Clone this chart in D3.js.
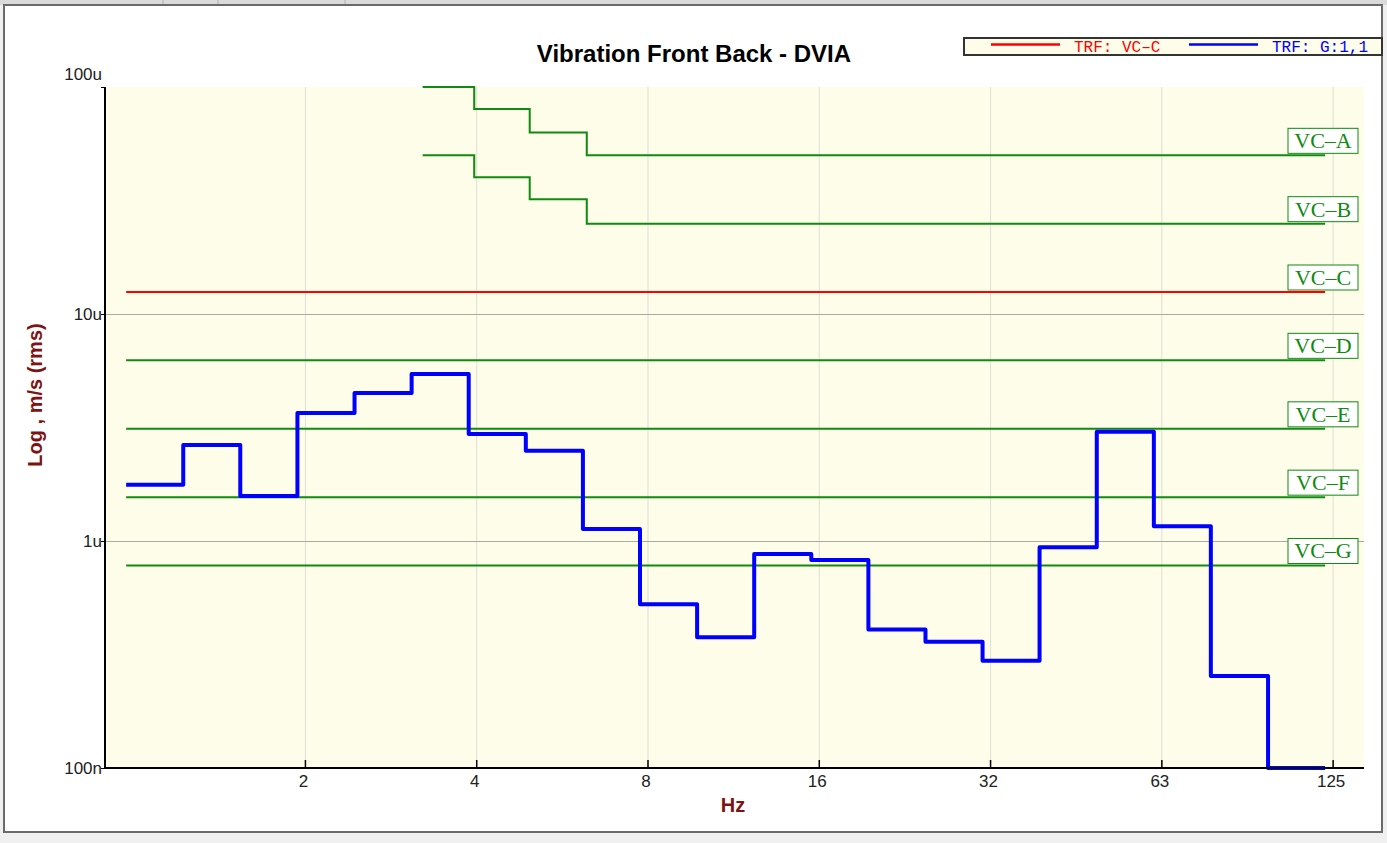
<!DOCTYPE html>
<html>
<head>
<meta charset="utf-8">
<script src="https://cdn.jsdelivr.net/npm/d3@7"></script>
<style>
    body { margin: 0; background: #f0f0f0; overflow: hidden; }
    #chart { width: 1387px; height: 843px; }
</style>
</head>
<body>
<div id="chart"></div>
<script>
// Third-octave band centres (Hz) used for the step plots, last one closes the 100 Hz band
const bandHz = [1, 1.26, 1.587, 2, 2.52, 3.175, 4, 5.04, 6.35, 8, 10.08, 12.7, 16, 20.16, 25.4, 32, 40.3, 50.8, 64, 80.6, 101.6, 128];

const measured = [1.77, 2.65, 1.58, 3.66, 4.49, 5.44, 2.96, 2.50, 1.13, 0.526, 0.377, 0.877, 0.825, 0.408, 0.360, 0.297, 0.938, 3.03, 1.16, 0.254, 0.1];

// VC criteria (um/s), flat part
const vcNames = ['VC\u2013A', 'VC\u2013B', 'VC\u2013C', 'VC\u2013D', 'VC\u2013E', 'VC\u2013F', 'VC\u2013G'];
const vcFlat = [50, 25, 12.5, 6.25, 3.12, 1.56, 0.78];

// VC-A / VC-B low frequency steps (Hz where each step starts)
const vcStepHz = [3.32, 4.09, 5.12, 6.45];
const vcALow = [100, 80, 63];
const vcBLow = [50, 40, 32];

// Axis ticks
const xTickHz = [2, 4, 8, 16, 32, 64, 128];
const xTickLabels = ['2', '4', '8', '16', '32', '63', '125'];
const yTickVals = [0.1, 1, 10, 100];
const yTickLabels = ['100n', '1u', '10u', '100u'];

// Legend
const legendItems = [
    { label: 'TRF: VC\u2013C', color: '#ff0000' },
    { label: 'TRF: G:1,1', color: '#0000ff' }
];

function drawVibrationChart() {
    const svg = d3.select('#chart').append('svg')
        .attr('width', 1387)
        .attr('height', 843);

    // Window frame
    svg.append('rect').attr('x', 0).attr('y', 0).attr('width', 1387).attr('height', 5).attr('fill', '#dadada');
    [163, 218, 345].forEach(x => {
        svg.append('line').attr('x1', x).attr('x2', x).attr('y1', 0).attr('y2', 5)
            .attr('stroke', '#b0b0b0');
    });
    svg.append('rect')
        .attr('x', 4).attr('y', 5)
        .attr('width', 1378).attr('height', 827)
        .attr('fill', '#ffffff')
        .attr('stroke', '#6a6a6a')
        .attr('stroke-width', 2);

    const plot = { left: 105, right: 1364, top: 87, bottom: 768 };

    const x = d3.scaleLog().base(2)
        .domain([0.918, 149.8])
        .range([plot.left, plot.right]);

    const y = d3.scaleLog()
        .domain([0.1, 100])
        .range([plot.bottom, plot.top]);

    const tickNudge = 8; // grid/ticks sit a little right of the band steps

    // Plot background
    svg.append('rect')
        .attr('x', plot.left).attr('y', plot.top)
        .attr('width', plot.right - plot.left)
        .attr('height', plot.bottom - plot.top)
        .attr('fill', '#fdfde9');

    // Vertical grid
    svg.append('g')
        .selectAll('line')
        .data(xTickHz)
        .join('line')
        .attr('x1', d => x(d) + tickNudge)
        .attr('x2', d => x(d) + tickNudge)
        .attr('y1', plot.top)
        .attr('y2', plot.bottom)
        .attr('stroke', '#dedfd6')
        .attr('stroke-width', 1);

    // Horizontal grid (decades inside the plot)
    svg.append('g')
        .selectAll('line')
        .data([1, 10])
        .join('line')
        .attr('x1', plot.left)
        .attr('x2', plot.right)
        .attr('y1', d => y(d) + 0.5)
        .attr('y2', d => y(d) + 0.5)
        .attr('stroke', '#aaaaa2')
        .attr('stroke-width', 1);

    // Title
    svg.append('text')
        .attr('x', 694)
        .attr('y', 62)
        .attr('text-anchor', 'middle')
        .style('font-family', 'Liberation Sans, Arial, sans-serif')
        .style('font-size', '24px')
        .style('font-weight', '700')
        .style('fill', '#000')
        .text('Vibration Front Back - DVIA');

    const line = d3.line()
        .x(d => x(d.f))
        .y(d => y(d.v))
        .curve(d3.curveStepAfter);

    // VC criteria (green), VC-C drawn red
    const green = '#108a10';
    vcNames.forEach((name, i) => {
        let pts;
        if (i === 0 || i === 1) {
            const low = i === 0 ? vcALow : vcBLow;
            pts = low.map((v, j) => ({ f: vcStepHz[j], v: v }));
            pts.push({ f: vcStepHz[low.length], v: vcFlat[i] });
        } else {
            pts = [{ f: bandHz[0], v: vcFlat[i] }];
        }
        pts.push({ f: bandHz[bandHz.length - 1], v: vcFlat[i] });

        svg.append('path')
            .datum(pts)
            .attr('d', line)
            .attr('fill', 'none')
            .attr('stroke', i === 2 ? '#ff0000' : green)
            .attr('stroke-width', 2);
    });

    // Measured spectrum
    const meas = measured.map((v, i) => ({ f: bandHz[i], v: v }));
    meas.push({ f: bandHz[bandHz.length - 1], v: measured[measured.length - 1] });
    svg.append('path')
        .datum(meas)
        .attr('d', line)
        .attr('fill', 'none')
        .attr('stroke', '#0000ff')
        .attr('stroke-width', 4)
        .attr('stroke-linejoin', 'round');

    // VC labels in boxes at the right end
    vcNames.forEach((name, i) => {
        const ly = y(vcFlat[i]);
        const lbl = svg.append('g').attr('transform', `translate(1288, ${ly - 27})`);
        lbl.append('rect')
            .attr('width', 70).attr('height', 25)
            .attr('fill', '#ffffff')
            .attr('stroke', green)
            .attr('stroke-width', 1);
        lbl.append('text')
            .attr('x', 35).attr('y', 20)
            .attr('text-anchor', 'middle')
            .style('font-family', 'Liberation Serif, Times New Roman, serif')
            .style('font-size', '22px')
            .style('fill', green)
            .text(name);
    });

    // Axes lines
    svg.append('line')
        .attr('x1', plot.left).attr('x2', plot.left)
        .attr('y1', plot.top).attr('y2', plot.bottom + 1)
        .attr('stroke', '#000').attr('stroke-width', 2);
    svg.append('line')
        .attr('x1', plot.left - 1).attr('x2', plot.right)
        .attr('y1', plot.bottom).attr('y2', plot.bottom)
        .attr('stroke', '#000').attr('stroke-width', 2);

    // X ticks + labels
    const xt = svg.append('g');
    xTickHz.forEach((f, i) => {
        const tx = x(f) + tickNudge;
        xt.append('line')
            .attr('x1', tx).attr('x2', tx)
            .attr('y1', plot.bottom - 8).attr('y2', plot.bottom)
            .attr('stroke', '#000').attr('stroke-width', 1.5);
        xt.append('text')
            .attr('x', tx - 2).attr('y', 787)
            .attr('text-anchor', 'middle')
            .style('font-family', 'Liberation Sans, Arial, sans-serif')
            .style('font-size', '17px')
            .style('fill', '#222')
            .text(xTickLabels[i]);
    });

    // Y ticks + labels
    const yt = svg.append('g');
    yTickVals.forEach((v, i) => {
        const ty = y(v);
        yt.append('line')
            .attr('x1', plot.left - 4).attr('x2', plot.left)
            .attr('y1', ty + 0.5).attr('y2', ty + 0.5)
            .attr('stroke', '#000').attr('stroke-width', 1);
        yt.append('text')
            .attr('x', 102)
            .attr('y', v === 100 ? ty - 7 : ty + 6)
            .attr('text-anchor', 'end')
            .style('font-family', 'Liberation Sans, Arial, sans-serif')
            .style('font-size', '17px')
            .style('fill', '#222')
            .text(yTickLabels[i]);
    });

    // Axis titles
    svg.append('text')
        .attr('x', 733).attr('y', 812)
        .attr('text-anchor', 'middle')
        .style('font-family', 'Liberation Sans, Arial, sans-serif')
        .style('font-size', '20px')
        .style('font-weight', '700')
        .style('fill', '#7d1414')
        .text('Hz');

    svg.append('text')
        .attr('transform', 'translate(42, 395) rotate(-90)')
        .attr('text-anchor', 'middle')
        .style('font-family', 'Liberation Sans, Arial, sans-serif')
        .style('font-size', '20px')
        .style('font-weight', '700')
        .style('fill', '#7d1414')
        .text('Log , m/s (rms)');

    // Legend box, top right
    const legend = svg.append('g').attr('transform', 'translate(964, 38)');
    legend.append('rect')
        .attr('width', 418).attr('height', 17)
        .attr('fill', '#fdfde9')
        .attr('stroke', '#333')
        .attr('stroke-width', 2);
    legendItems.forEach((item, i) => {
        const ox = 27 + i * 198;
        legend.append('line')
            .attr('x1', ox).attr('x2', ox + 69)
            .attr('y1', 6.5).attr('y2', 6.5)
            .attr('stroke', item.color)
            .attr('stroke-width', 2.5);
        legend.append('text')
            .attr('x', ox + 83).attr('y', 13.5)
            .style('font-family', 'Liberation Mono, Courier New, monospace')
            .style('font-size', '16px')
            .style('fill', item.color)
            .text(item.label);
    });
}

drawVibrationChart();
</script>
</body>
</html>
